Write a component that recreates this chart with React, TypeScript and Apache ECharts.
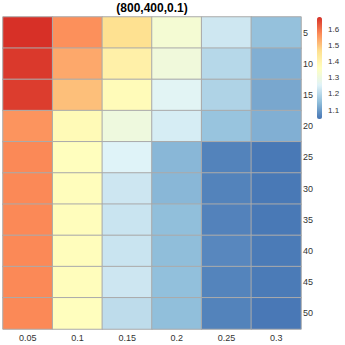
import React, { useEffect, useRef } from "react";
import * as echarts from "echarts";

const xCats = ["0.05", "0.1", "0.15", "0.2", "0.25", "0.3"];
const yCats = ["5", "10", "15", "20", "25", "30", "35", "40", "45", "50"];
// values[row][col]
const row5 = [1.68, 1.57, 1.465, 1.325, 1.232, 1.155];
const row10 = [1.67, 1.54, 1.415, 1.31, 1.2, 1.127];
const row15 = [1.665, 1.51, 1.375, 1.263, 1.19, 1.116];
const row20 = [1.565, 1.38, 1.305, 1.243, 1.16, 1.127];
const row25 = [1.578, 1.365, 1.255, 1.139, 1.064, 1.05];
const row30 = [1.578, 1.368, 1.23, 1.139, 1.064, 1.05];
const row35 = [1.578, 1.368, 1.225, 1.15, 1.063, 1.05];
const row40 = [1.578, 1.368, 1.225, 1.148, 1.07, 1.052];
const row45 = [1.578, 1.368, 1.23, 1.152, 1.065, 1.052];
const row50 = [1.578, 1.365, 1.21, 1.15, 1.064, 1.049];
const rows = [row5, row10, row15, row20, row25, row30, row35, row40, row45, row50];
const legendTicks = [1.1, 1.2, 1.3, 1.4, 1.5, 1.6];
const vMin = 1.044;
const vMax = 1.68;
const palette = ["#4575b4", "#91bfdb", "#e0f3f8", "#ffffbf", "#fee090", "#fc8d59", "#d73027"];

export default function App() {
  const ref = useRef<HTMLDivElement>(null);
  useEffect(() => {
    if (!ref.current) return;
    const chart = echarts.init(ref.current, undefined, { renderer: "svg" });
    const data: [number, number, number][] = [];
    rows.forEach((r, yi) => r.forEach((v, xi) => data.push([xi, yi, v])));
    const font = "Liberation Sans";
    chart.setOption({
      animation: false,
      backgroundColor: "#ffffff",
      title: {
        text: "(800,400,0.1)",
        left: 152,
        top: 2,
        padding: 0,
        textAlign: "center",
        textStyle: { fontFamily: font, fontSize: 12, fontWeight: "bold", color: "#000" },
      },
      grid: [
        { left: 3, top: 17, width: 298, height: 312 },
        { left: 317, top: 17, width: 5, height: 102 },
      ],
      xAxis: [
        {
          gridIndex: 0,
          type: "category",
          data: xCats,
          position: "bottom",
          axisLine: { show: false },
          axisTick: { show: false },
          splitLine: { show: false },
          axisLabel: { fontFamily: font, fontSize: 9, color: "#333", margin: 4 },
        },
        { gridIndex: 1, type: "category", data: ["c"], show: false },
      ],
      yAxis: [
        {
          gridIndex: 0,
          type: "category",
          data: yCats,
          inverse: true,
          position: "right",
          axisLine: { show: false },
          axisTick: { show: false },
          splitLine: { show: false },
          axisLabel: { fontFamily: font, fontSize: 9, color: "#333", margin: 2 },
        },
        {
          gridIndex: 1,
          type: "value",
          min: vMin,
          max: vMax,
          position: "right",
          axisLine: { show: false },
          axisTick: { show: false },
          splitLine: { show: false },
          axisLabel: {
            fontFamily: font,
            fontSize: 8,
            color: "#333",
            margin: 6,
            customValues: legendTicks,
            formatter: (v: number) => v.toFixed(1),
          },
        },
      ],
      visualMap: {
        type: "continuous",
        min: vMin,
        max: vMax,
        seriesIndex: 0,
        show: true,
        calculable: false,
        left: 317,
        top: 17,
        itemWidth: 5,
        itemHeight: 102,
        padding: 0,
        text: ["", ""],
        inRange: { color: palette },
      },
      series: [
        {
          type: "heatmap",
          xAxisIndex: 0,
          yAxisIndex: 0,
          data,
          itemStyle: { borderColor: "#aaaaaa", borderWidth: 1 },
        },
        {
          type: "scatter",
          xAxisIndex: 1,
          yAxisIndex: 1,
          data: [],
          silent: true,
        },
      ],
    });
    return () => chart.dispose();
  }, []);
  return <div ref={ref} style={{ width: 345, height: 345, position: "absolute", left: 0, top: 0 }} />;
}
